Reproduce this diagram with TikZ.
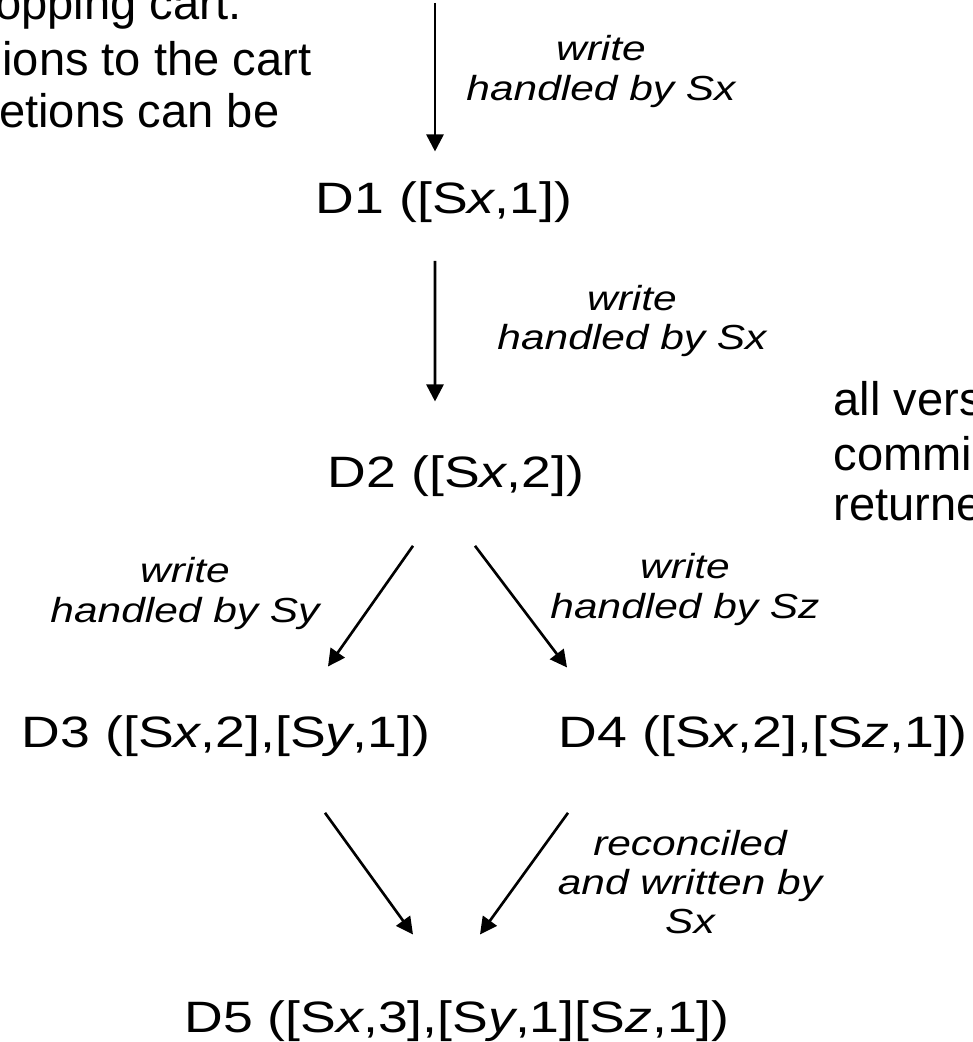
\documentclass[tikz,border=0pt]{standalone}
\usepackage{fontspec}
\setmainfont{Liberation Sans}
\usetikzlibrary{arrows.meta,calc}

\begin{document}
\begin{tikzpicture}[x=1cm, y=-1cm,
        version/.style={inner sep=0pt, anchor=base, xscale=1.22, transform shape,
            font=\fontsize{12.5}{15}\selectfont},
        handler/.style={inner sep=0pt, align=center, xscale=1.22, transform shape,
            font=\fontsize{9.9}{11.2}\selectfont\itshape},
        pagetext/.style={inner sep=0pt, font=\fontsize{13.4}{15}\selectfont},
        arr/.style={-{Triangle[length=0.17cm,width=0.17cm]}, line width=0.75pt}]
        \path[use as bounding box, clip] (0,0) rectangle (9.73,10.42);

        % surrounding text
        \begin{scope}[every node/.style={pagetext, anchor=base east}]
            \node (t1) at (2.42, 0.20) {opping cart.};
            \node (t2) at (3.12, 0.75) {ions to the cart};
            \node (t3) at (2.80, 1.27) {etions can be};
        \end{scope}
        \begin{scope}[every node/.style={pagetext, anchor=base west}]
            \node (t4) at (8.33, 4.15) {all vers};
            \node (t5) at (8.33, 4.70) {commi};
            \node (t6) at (8.33, 5.20) {returne};
        \end{scope}

        % versions
        \begin{scope}[every node/.style={version}]
            \node (d1) at (4.44, 2.13) {D1 ([S\textit{x},1])};
            \node (d2) at (4.56, 4.87) {D2 ([S\textit{x},2])};
            \node (d3) at (2.26, 7.47) {D3 ([S\textit{x},2],[S\textit{y},1])};
            \node (d4) at (7.63, 7.47) {D4 ([S\textit{x},2],[S\textit{z},1])};
            \node (d5) at (4.57, 10.32) {D5 ([S\textit{x},3],[S\textit{y},1][S\textit{z},1])};
        \end{scope}
        \coordinate (src) at (4.35, 0.03);

        % who handled each write
        \begin{scope}[every node/.style={handler}]
            \node (w1) at (6.01, 0.715) {write\\handled by Sx};
            \node (w2) at (6.32, 3.21) {write\\handled by Sx};
            \node (w3) at (1.85, 5.935) {write\\handled by Sy};
            \node (w4) at (6.85, 5.895) {write\\handled by Sz};
            \node (w5) at (6.90, 8.82) {reconciled\\and written by\\Sx};
        \end{scope}

        \begin{scope}[every edge/.style={draw, arr}]
            \path (src) edge ($(d1.north)+(-0.09,-0.29)$);
            \path ($(d1.south)+(-0.09,0.38)$) edge ($(d2.north)+(-0.21,-0.53)$);
            \path ($(d2.south)+(-0.43,0.49)$) edge ($(d3.north)+(1.02,-0.48)$);
            \path ($(d2.south)+(0.19,0.49)$) edge ($(d4.north)+(-1.96,-0.47)$);
            \path ($(d3.south)+(0.99,0.56)$) edge ($(d5.north)+(-0.44,-0.65)$);
            \path ($(d4.south)+(-1.95,0.56)$) edge ($(d5.north)+(0.23,-0.65)$);
        \end{scope}
\end{tikzpicture}
\end{document}
